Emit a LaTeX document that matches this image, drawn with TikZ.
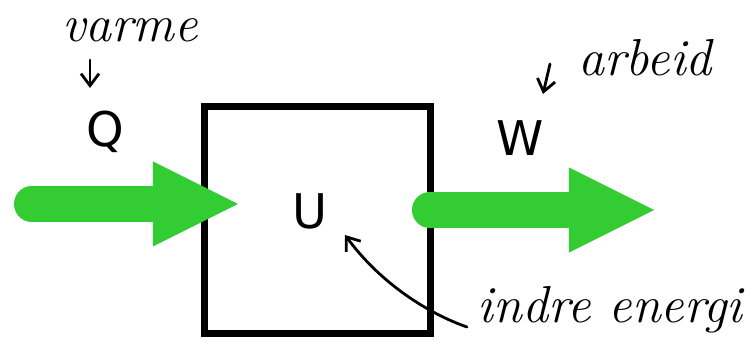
\documentclass[tikz,border=0pt]{standalone}
\usepackage{fontspec}
\newfontfamily\letterfont{DejaVu Sans}
\usetikzlibrary{arrows.meta,positioning}

\definecolor{flowgreen}{RGB}{51,204,51}

\tikzset{
  flow/.style = {flowgreen, line width=0.875cm, line cap=round,
    -{Triangle[length=2.125cm, width=2.125cm, line width=0pt]}},
  sys/.style = {draw, line width=0.175cm, minimum size=5.65cm, inner sep=0pt},
  quantity/.style = {inner sep=0pt, font=\letterfont\fontsize{34}{40}\selectfont},
  hand/.style = {inner sep=0pt, font=\fontsize{37}{44}\selectfont\itshape},
  note/.style = {line width=0.07cm, line cap=round, -{Straight Barb[length=0.3cm, width=0.45cm]}},
}

\begin{document}
\begin{tikzpicture}[x=0.025cm, y=-0.025cm]
    \useasboundingbox (0,0) rectangle (751,347);

    \node[sys] (sys) at (317.5,220) {};

    \node[quantity] (Q) at (105,132) {Q};
    \node[quantity] (W) at (520,138) {W};
    \node[quantity] (U) at (310,211) {U};

    % heat in, work out
    \coordinate (qin) at (31.5,204);
    \coordinate (qend) at (238,204);
    \coordinate (wout) at (429.5,210);
    \coordinate (wend) at (654,210);
    \draw[flow] (qin) -- (qend);
    \draw[flow] (wout) -- (wend);

    % handwritten notes
    \node[hand] (varme) at (130,30) {varme};
    \node[hand] (arbeid) at (645,58) {arbeid};
    \node[hand] (indre) at (610,310) {indre energi};

    \coordinate (varme-tail) at (90,60);
    \coordinate (varme-tip) at (90,88);
    \coordinate (arbeid-tail) at (550,64);
    \coordinate (arbeid-tip) at (543,94);
    \coordinate (indre-tail) at (467,327);
    \coordinate (indre-tip) at (345,235);

    \draw[note] (varme-tail) -- (varme-tip);
    \draw[note] (arbeid-tail) -- (arbeid-tip);
    \draw[note] (indre-tail) .. controls (435,316) and (384,288) .. (indre-tip);
\end{tikzpicture}
\end{document}
